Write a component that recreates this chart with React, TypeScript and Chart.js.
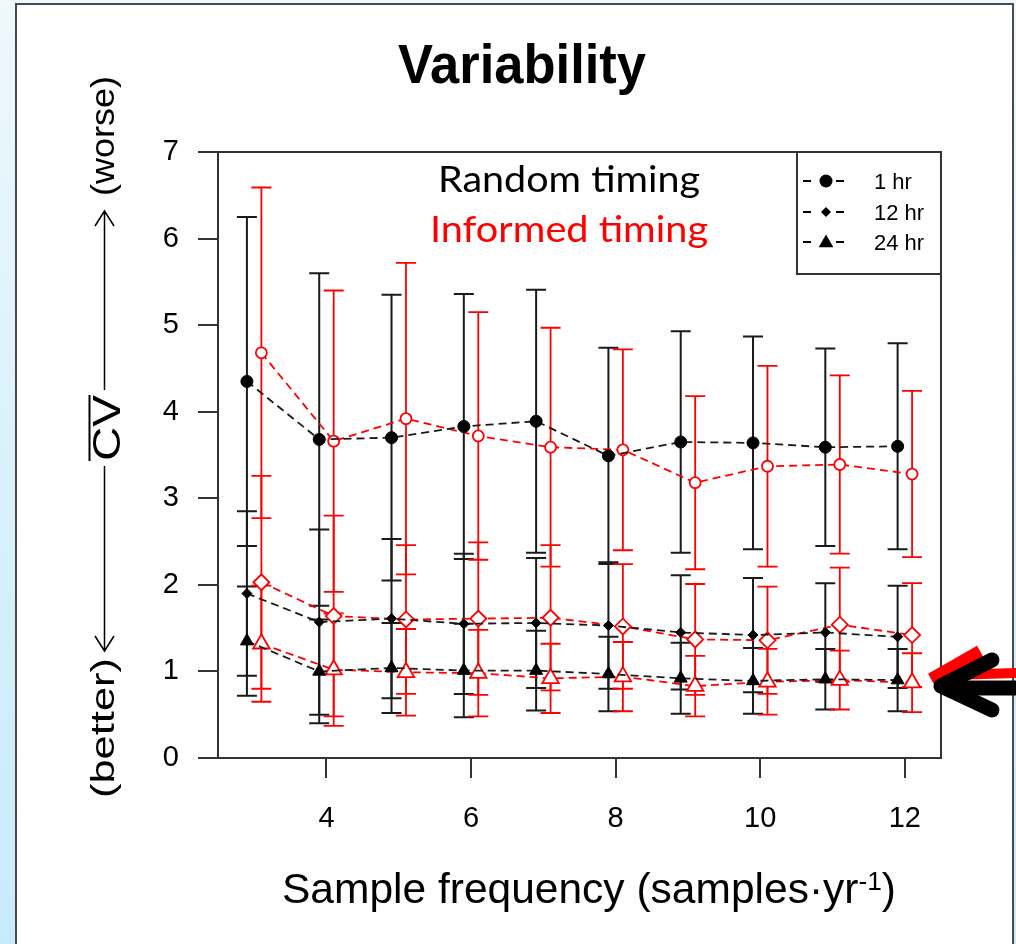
import React, { useEffect, useRef } from "react";
import { Chart, registerables } from "chart.js";

Chart.register(...registerables);

// ---------------- data ----------------
const FREQ = [3, 4, 5, 6, 7, 8, 9, 10, 11, 12];
const X_TICKS = [4, 6, 8, 10, 12];
const Y_TICKS = [0, 1, 2, 3, 4, 5, 6, 7];

const RANDOM_1HR = [4.35, 3.68, 3.7, 3.83, 3.89, 3.49, 3.65, 3.64, 3.59, 3.6];
const RANDOM_1HR_SD = [1.9, 1.92, 1.65, 1.53, 1.52, 1.25, 1.28, 1.23, 1.14, 1.19];
const RANDOM_12HR = [1.9, 1.57, 1.61, 1.55, 1.56, 1.53, 1.45, 1.42, 1.45, 1.4];
const RANDOM_12HR_SD = [0.95, 1.07, 0.92, 0.81, 0.75, 0.73, 0.66, 0.66, 0.57, 0.59];
const RANDOM_24HR = [1.35, 1.0, 1.04, 1.01, 1.01, 0.97, 0.92, 0.89, 0.91, 0.9];
const RANDOM_24HR_SD = [0.63, 0.6, 0.52, 0.54, 0.46, 0.43, 0.41, 0.38, 0.35, 0.36];

const INFORMED_1HR = [4.68, 3.66, 3.92, 3.72, 3.59, 3.56, 3.18, 3.37, 3.39, 3.28];
const INFORMED_1HR_SD = [1.91, 1.74, 1.8, 1.43, 1.38, 1.16, 1.0, 1.16, 1.03, 0.96];
const INFORMED_12HR = [2.03, 1.64, 1.6, 1.61, 1.62, 1.52, 1.37, 1.36, 1.54, 1.42];
const INFORMED_12HR_SD = [1.23, 1.16, 0.86, 0.88, 0.84, 0.72, 0.64, 0.62, 0.66, 0.6];
const INFORMED_24HR = [1.32, 1.02, 0.99, 0.98, 0.92, 0.94, 0.83, 0.88, 0.9, 0.87];
const INFORMED_24HR_SD = [0.67, 0.65, 0.5, 0.5, 0.4, 0.4, 0.35, 0.38, 0.34, 0.34];

const SERIES_LABELS = ["1 hr", "12 hr", "24 hr"];
const GROUP_LABELS = ["Random timing", "Informed timing"];
const TITLE = "Variability";
const X_TITLE_MAIN = "Sample frequency (samples\u00B7yr";
const X_TITLE_SUP = "-1";
const X_TITLE_END = ")";
const Y_TITLE_MAIN = "CV";
const Y_TITLE_TOP = "(worse)";
const Y_TITLE_BOTTOM = "(better)";

// ---------------- style ----------------
const X_OFFSET = 0.1;
const BLACK = "#000000";
const RED = "#ff0000";
const SANS = "'Liberation Sans', Arial, sans-serif";
const CALLOUT = "Lato, 'Open Sans', sans-serif";

function makeSet(label: string, means: number[], sds: number[], offset: number, color: string, style: string, radius: number, filled: boolean) {
  return {
    label,
    data: FREQ.map((f, i) => ({ x: f + offset, y: means[i] })),
    sd: sds,
    barColor: color === BLACK ? "#1a1a1a" : RED,
    barWidth: color === BLACK ? 2 : 1.8,
    borderColor: color === BLACK ? "#1a1a1a" : RED,
    borderWidth: 1.8,
    borderDash: [8, 5],
    pointStyle: style,
    pointRadius: radius,
    pointHoverRadius: radius,
    pointBackgroundColor: filled ? color : "#ffffff",
    pointBorderColor: color,
    pointBorderWidth: filled ? 1 : 1.8,
    fill: false,
    tension: 0,
  };
}

function fitText(ctx: any, text: string, x: number, y: number, font: string, width: number, color: string, rotate = false) {
  ctx.save();
  ctx.font = font;
  ctx.fillStyle = color;
  ctx.textAlign = "center";
  ctx.textBaseline = "alphabetic";
  ctx.translate(x, y);
  if (rotate) ctx.rotate(-Math.PI / 2);
  const w = ctx.measureText(text).width;
  ctx.scale(width / w, 1);
  ctx.fillText(text, 0, 0);
  ctx.restore();
}

function marker(ctx: any, style: string, x: number, y: number, r: number) {
  ctx.beginPath();
  if (style === "circle") {
    ctx.arc(x, y, r, 0, Math.PI * 2);
  } else if (style === "rectRot") {
    ctx.moveTo(x - r, y);
    ctx.lineTo(x, y - r);
    ctx.lineTo(x + r, y);
    ctx.lineTo(x, y + r);
    ctx.closePath();
  } else {
    ctx.moveTo(x, y - r);
    ctx.lineTo(x + r * 0.866, y + r * 0.5);
    ctx.lineTo(x - r * 0.866, y + r * 0.5);
    ctx.closePath();
  }
  ctx.fill();
}

const decorPlugin = {
  id: "decor",
  beforeDatasetsDraw(chart: any) {
    const ctx = chart.ctx;
    const xs = chart.scales.x;
    const ys = chart.scales.y;
    chart.data.datasets.forEach((ds: any) => {
      ctx.save();
      ctx.strokeStyle = ds.barColor;
      ctx.lineWidth = ds.barWidth;
      ctx.setLineDash([]);
      ds.data.forEach((p: any, i: number) => {
        const px = xs.getPixelForValue(p.x);
        const top = ys.getPixelForValue(p.y + ds.sd[i]);
        const bot = ys.getPixelForValue(p.y - ds.sd[i]);
        ctx.beginPath();
        ctx.moveTo(px, top);
        ctx.lineTo(px, bot);
        ctx.moveTo(px - 10, top);
        ctx.lineTo(px + 10, top);
        ctx.moveTo(px - 10, bot);
        ctx.lineTo(px + 10, bot);
        ctx.stroke();
      });
      ctx.restore();
    });
  },
  afterDraw(chart: any) {
    const ctx = chart.ctx;
    const a = chart.chartArea;
    ctx.save();
    // frame
    ctx.strokeStyle = "#333";
    ctx.lineWidth = 2;
    ctx.setLineDash([]);
    ctx.strokeRect(a.left, a.top, a.right - a.left, a.bottom - a.top);

    // legend box
    const lx = 797;
    const ly = 274;
    ctx.beginPath();
    ctx.moveTo(lx, a.top);
    ctx.lineTo(lx, ly);
    ctx.lineTo(a.right, ly);
    ctx.stroke();
    const rows = [181, 212, 242];
    const styles = ["circle", "rectRot", "triangle"];
    const radii = [6.5, 5, 8.5];
    SERIES_LABELS.forEach((lab, i) => {
      const yy = rows[i];
      ctx.strokeStyle = "#000";
      ctx.lineWidth = 2;
      ctx.beginPath();
      ctx.moveTo(803, yy);
      ctx.lineTo(811, yy);
      ctx.moveTo(836, yy);
      ctx.lineTo(844, yy);
      ctx.stroke();
      ctx.fillStyle = "#000";
      marker(ctx, styles[i], 826, i === 2 ? yy + 1 : yy, radii[i]);
      ctx.font = `22px ${SANS}`;
      ctx.textAlign = "left";
      ctx.textBaseline = "alphabetic";
      ctx.fillText(lab, 874, yy + 8);
    });

    // title
    fitText(ctx, TITLE, 522, 83, `bold 55px ${SANS}`, 248, "#000");

    // group callouts
    fitText(ctx, GROUP_LABELS[0], 569, 192, `36px ${CALLOUT}`, 262, "#000");
    fitText(ctx, GROUP_LABELS[1], 569, 242, `36px ${CALLOUT}`, 278, RED);

    // x title with superscript
    {
      const f1 = `42px ${SANS}`;
      const f2 = `26px ${SANS}`;
      ctx.font = f1;
      const w1 = ctx.measureText(X_TITLE_MAIN).width;
      const w3 = ctx.measureText(X_TITLE_END).width;
      ctx.font = f2;
      const w2 = ctx.measureText(X_TITLE_SUP).width;
      const total = w1 + w2 + w3;
      const target = 614;
      const sx = target / total;
      const cx = 589;
      const base = 903;
      ctx.save();
      ctx.translate(cx - target / 2, base);
      ctx.scale(sx, 1);
      ctx.fillStyle = "#000";
      ctx.textAlign = "left";
      ctx.font = f1;
      ctx.fillText(X_TITLE_MAIN, 0, 0);
      ctx.font = f2;
      ctx.fillText(X_TITLE_SUP, w1, -13);
      ctx.font = f1;
      ctx.fillText(X_TITLE_END, w1 + w2, 0);
      ctx.restore();
    }

    // rotated y title
    fitText(ctx, Y_TITLE_TOP, 114, 136, `34px ${SANS}`, 120, "#000", true);
    fitText(ctx, Y_TITLE_BOTTOM, 114, 728, `34px ${SANS}`, 140, "#000", true);
    fitText(ctx, Y_TITLE_MAIN, 120, 428, `38px ${SANS}`, 66, "#000", true);
    ctx.strokeStyle = "#000";
    ctx.lineWidth = 2;
    ctx.beginPath();
    ctx.moveTo(89.5, 395);
    ctx.lineTo(89.5, 461);
    ctx.stroke();
    ctx.lineWidth = 1.5;
    ctx.beginPath();
    ctx.moveTo(104.5, 390);
    ctx.lineTo(104.5, 212);
    ctx.moveTo(95, 226);
    ctx.lineTo(104.5, 211);
    ctx.lineTo(114, 226);
    ctx.moveTo(104.5, 466);
    ctx.lineTo(104.5, 650);
    ctx.moveTo(95, 636);
    ctx.lineTo(104.5, 651);
    ctx.lineTo(114, 636);
    ctx.stroke();

    // pointer arrow at right
    ctx.lineCap = "butt";
    ctx.strokeStyle = RED;
    ctx.lineWidth = 12;
    ctx.beginPath();
    ctx.moveTo(980, 651);
    ctx.lineTo(931, 679);
    ctx.stroke();
    ctx.lineWidth = 10;
    ctx.beginPath();
    ctx.moveTo(950, 675);
    ctx.lineTo(1020, 673);
    ctx.stroke();
    ctx.strokeStyle = "#000";
    ctx.lineWidth = 15;
    ctx.lineCap = "round";
    ctx.lineJoin = "round";
    ctx.beginPath();
    ctx.moveTo(992, 660);
    ctx.lineTo(941, 686);
    ctx.lineTo(992, 710);
    ctx.stroke();
    ctx.beginPath();
    ctx.moveTo(950, 688);
    ctx.lineTo(1026, 688);
    ctx.stroke();
    ctx.restore();
  },
};

export default function App() {
  const ref = useRef<HTMLCanvasElement | null>(null);

  useEffect(() => {
    if (!ref.current) return;
    const datasets = [
      makeSet("Random 1 hr", RANDOM_1HR, RANDOM_1HR_SD, -X_OFFSET, BLACK, "circle", 6, true),
      makeSet("Random 12 hr", RANDOM_12HR, RANDOM_12HR_SD, -X_OFFSET, BLACK, "rectRot", 5, true),
      makeSet("Random 24 hr", RANDOM_24HR, RANDOM_24HR_SD, -X_OFFSET, BLACK, "triangle", 7.5, true),
      makeSet("Informed 1 hr", INFORMED_1HR, INFORMED_1HR_SD, X_OFFSET, RED, "circle", 5.5, false),
      makeSet("Informed 12 hr", INFORMED_12HR, INFORMED_12HR_SD, X_OFFSET, RED, "rectRot", 8, false),
      makeSet("Informed 24 hr", INFORMED_24HR, INFORMED_24HR_SD, X_OFFSET, RED, "triangle", 9.5, false),
    ];
    const tickFont = { family: SANS, size: 29 };
    const chart = new Chart(ref.current, {
      type: "line",
      data: { datasets: datasets as any },
      options: {
        responsive: false,
        animation: false,
        events: [],
        layout: { padding: { top: 152, right: 75, left: 0, bottom: 0 } },
        plugins: { legend: { display: false }, tooltip: { enabled: false }, title: { display: false } },
        scales: {
          x: {
            type: "linear",
            min: 2.5,
            max: 12.5,
            afterBuildTicks: (s: any) => {
              s.ticks = X_TICKS.map((v) => ({ value: v }));
            },
            afterFit: (s: any) => {
              s.height = 186;
            },
            grid: { drawOnChartArea: false, drawTicks: true, tickLength: 20, color: "#333", lineWidth: 2 },
            border: { display: false },
            ticks: { font: tickFont, color: "#000", padding: 24, maxRotation: 0, autoSkip: false },
          },
          y: {
            type: "linear",
            min: 0,
            max: 7,
            afterBuildTicks: (s: any) => {
              s.ticks = Y_TICKS.map((v) => ({ value: v }));
            },
            afterFit: (s: any) => {
              s.width = 218;
            },
            grid: { drawOnChartArea: false, drawTicks: true, tickLength: 20, color: "#333", lineWidth: 2 },
            border: { display: false },
            ticks: { font: tickFont, color: "#000", padding: 19, autoSkip: false },
          },
        },
      } as any,
      plugins: [decorPlugin],
    });
    return () => chart.destroy();
  }, []);

  return (
    <div
      style={{
        position: "fixed",
        left: 0,
        top: 0,
        width: 1016,
        height: 944,
        overflow: "hidden",
        background: "linear-gradient(180deg, #eef8fd 0%, #d9f1fc 50%, #c8ebfb 100%)",
      }}
    >
      <div
        style={{
          position: "absolute",
          left: 15,
          top: 3,
          width: 999,
          height: 960,
          boxSizing: "border-box",
          border: "2px solid #4a4a4a",
          background: "#ffffff",
        }}
      />
      <canvas ref={ref} width={1016} height={944} style={{ position: "absolute", left: 0, top: 0, display: "block" }} />
    </div>
  );
}
